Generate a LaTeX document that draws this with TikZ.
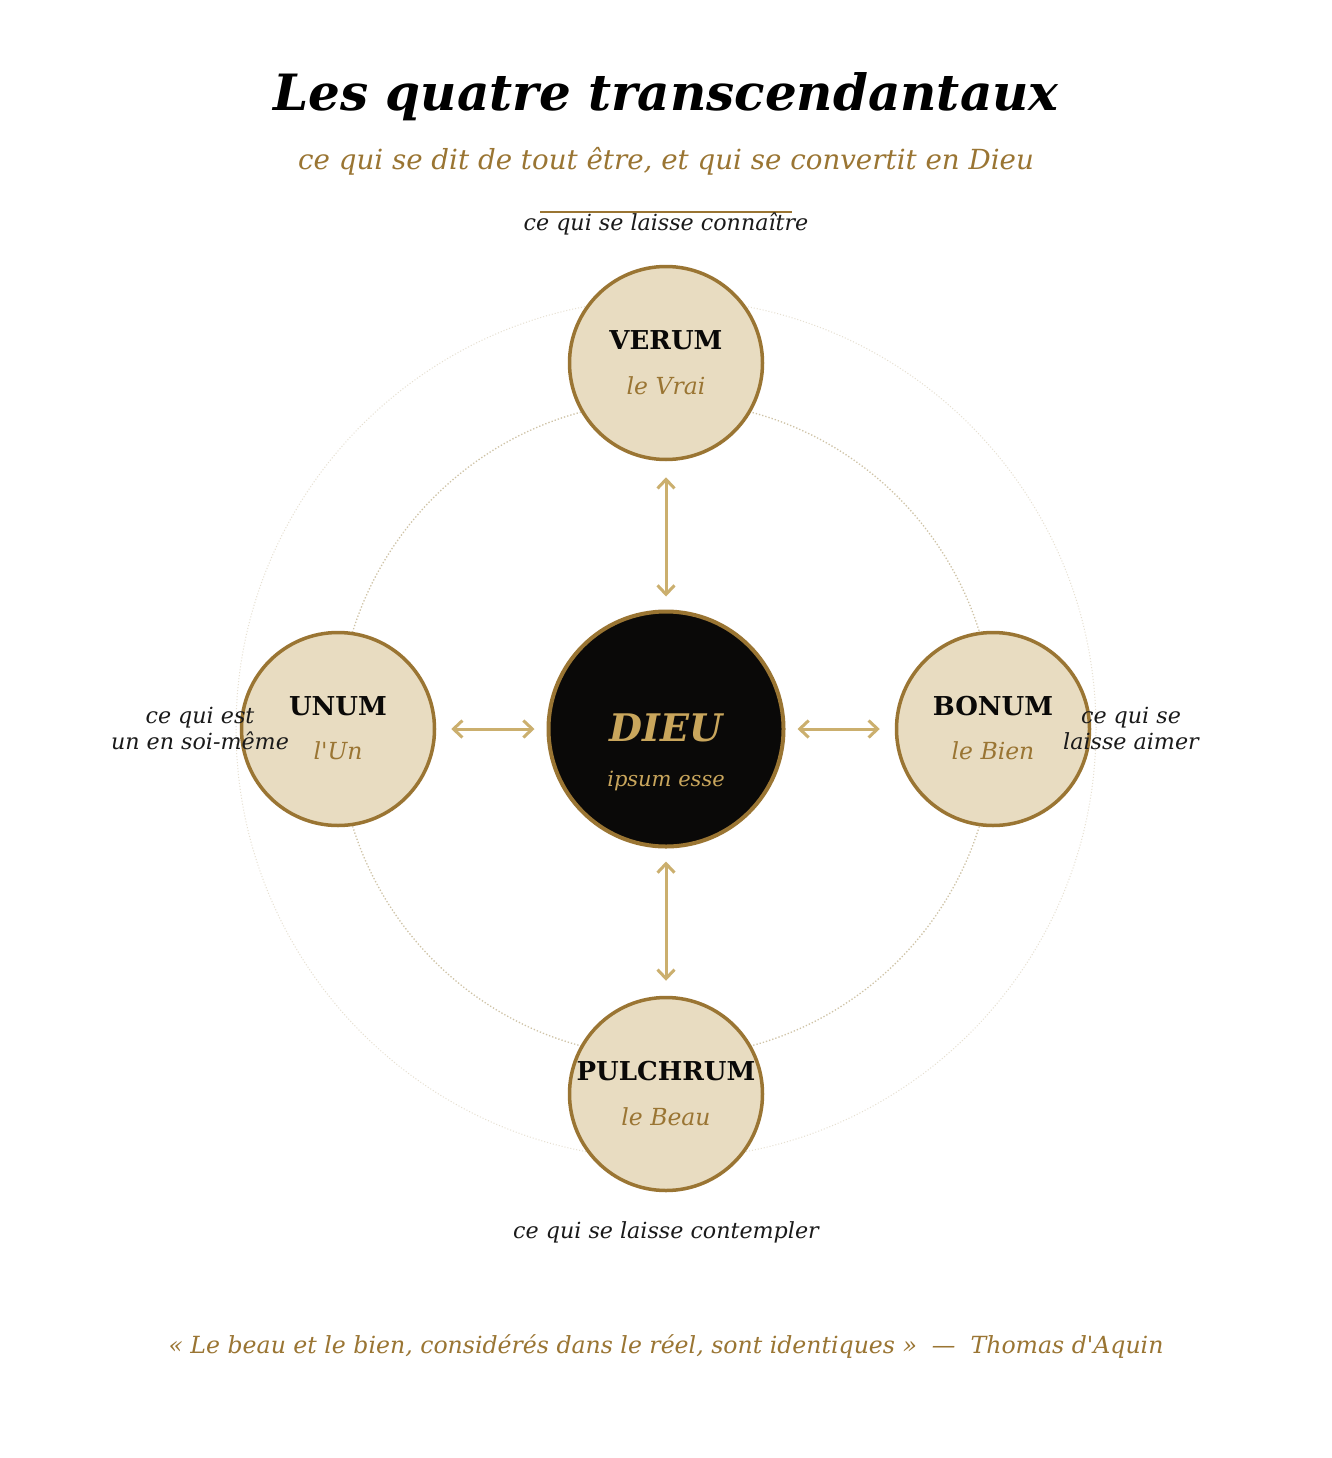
\documentclass[tikz,border=0pt]{standalone}
\usepackage{fontspec}
\setmainfont{DejaVu Serif}[Ligatures=TeXOff]
\usetikzlibrary{arrows.meta}
\definecolor{gold}{HTML}{9A7533}
\definecolor{lightgold}{HTML}{CBAF6E}
\definecolor{dieugold}{HTML}{C9A65C}
\definecolor{beige}{HTML}{E8DCC1}
\definecolor{ink}{HTML}{0A0908}
\definecolor{txt}{HTML}{1A1A1A}
\definecolor{ringout}{HTML}{E6DFD0}
\definecolor{ringin}{HTML}{CFC3A6}
\tikzset{
  transc/.style={circle, draw=gold, line width=3.5pt, fill=beige, minimum size=193pt, inner sep=0pt},
  god/.style={circle, draw=gold, line width=4pt, fill=ink, minimum size=235pt, inner sep=0pt},
  latin/.style={font=\fontsize{26}{30}\selectfont\bfseries, text=ink},
  french/.style={font=\fontsize{23.5}{28}\selectfont\itshape, text=gold},
  desc/.style={font=\fontsize{22.2}{26}\selectfont\itshape, text=txt, align=center},
  arr/.style={{Straight Barb[length=9pt,width=17pt]}-{Straight Barb[length=9pt,width=17pt]}, draw=lightgold, line width=3pt},
}
\begin{document}
\begin{tikzpicture}[x=1pt,y=-1pt]
\useasboundingbox (0,0) rectangle (1331,1458);
\fill[white] (0,0) rectangle (1331,1458);
% title
\node (title) at (666,97) {\fontsize{50}{58}\selectfont\bfseries\itshape Les quatre transcendantaux};
\node[text=gold] (subtitle) at (666,161) {\fontsize{27.7}{32}\selectfont\itshape ce qui se dit de tout être, et qui se convertit en Dieu};
\coordinate (rl) at (540,212);
\coordinate (rr) at (792,212);
\draw[gold, line width=1.2pt] (rl) -- (rr);
% rings
\coordinate (c) at (666,729);
\draw[ringout, line width=1pt, dotted] (c) circle[radius=430];
\draw[ringin, line width=1.3pt, dotted] (c) circle[radius=328];
% nodes
\node[god] (dieu) at (666,729) {};
\node[transc] (verum) at (666,363) {};
\node[transc] (unum) at (338,729) {};
\node[transc] (bonum) at (993,729) {};
\node[transc] (pulchrum) at (666,1094) {};
% texts inside
\node[text=dieugold] (dieut) at (666,728) {\fontsize{38}{44}\selectfont\bfseries\itshape DIEU};
\node[text=dieugold] (ipsum) at (666,781) {\fontsize{21}{25}\selectfont\itshape ipsum esse};
\node[latin] (verumt) at (666,340) {VERUM};
\node[french] (verumf) at (666,386) {le Vrai};
\node[latin] (unumt) at (338,706) {UNUM};
\node[french] (unumf) at (338,751) {l'Un};
\node[latin] (bonumt) at (993,706) {BONUM};
\node[french] (bonumf) at (993,751) {le Bien};
\node[latin] (pulchrumt) at (666,1071) {PULCHRUM};
\node[french] (pulchrumf) at (666,1117) {le Beau};
% arrows
\draw[arr, shorten <=16pt, shorten >=13pt] (verum) -- (dieu);
\draw[arr, shorten <=13pt, shorten >=15pt] (dieu) -- (pulchrum);
\draw[arr, shorten <=15pt, shorten >=12pt] (unum) -- (dieu);
\draw[arr, shorten <=12pt, shorten >=15pt] (dieu) -- (bonum);
% descriptions
\node[desc] (dtop) at (666,224) {ce qui se laisse connaître};
\node[desc] (dleft) at (200,728) {ce qui est\\un en soi-même};
\node[desc] (dright) at (1131,728) {ce qui se\\laisse aimer};
\node[desc] (dbot) at (666,1232) {ce qui se laisse contempler};
% quote
\node[text=gold] (quote) at (666,1346) {\fontsize{23.6}{28}\selectfont\itshape « Le beau et le bien, considérés dans le réel, sont identiques »\ \ —\ \ Thomas d'Aquin};
\end{tikzpicture}
\end{document}
